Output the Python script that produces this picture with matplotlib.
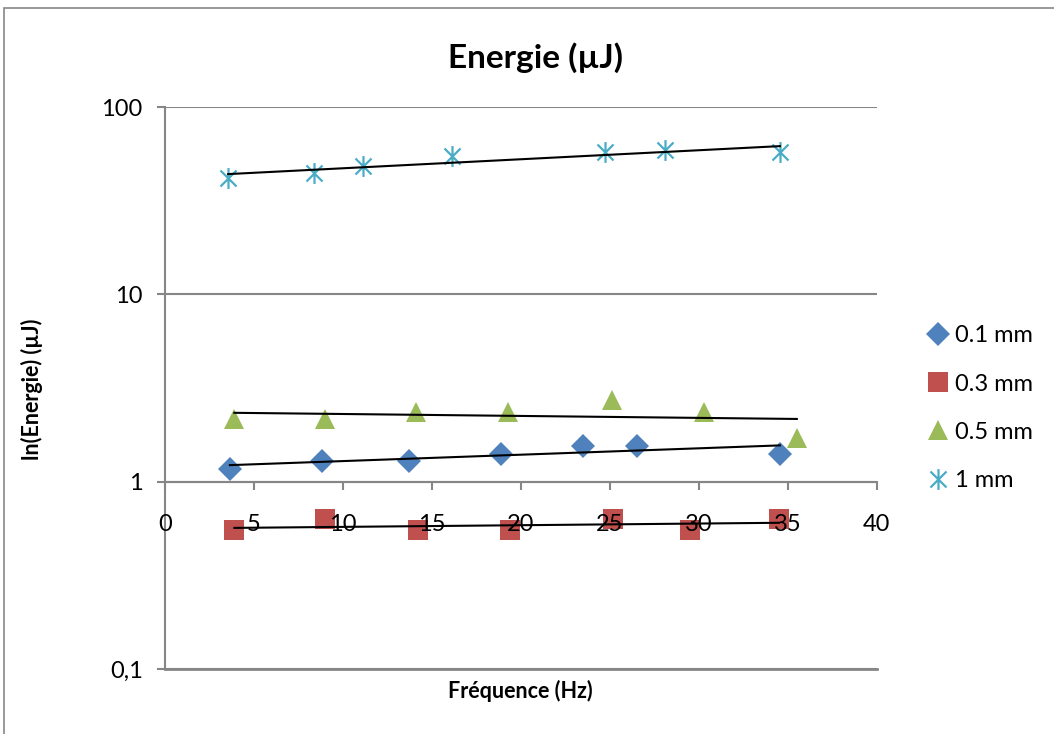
import numpy as np
import matplotlib.pyplot as plt
from matplotlib.path import Path
from matplotlib.patches import Rectangle

# Data (frequency in Hz, energy in uJ)
x_01 = [3.65, 8.8, 13.7, 18.9, 23.5, 26.5, 34.55]
y_01 = [1.17, 1.29, 1.29, 1.41, 1.56, 1.56, 1.41]

x_03 = [3.9, 9.0, 14.2, 19.4, 25.2, 29.5, 34.5]
y_03 = [0.55, 0.635, 0.55, 0.55, 0.635, 0.55, 0.635]

x_05 = [3.9, 9.0, 14.1, 19.3, 25.1, 30.3, 35.5]
y_05 = [2.16, 2.16, 2.36, 2.36, 2.74, 2.36, 1.72]

x_1 = [3.55, 8.4, 11.1, 16.1, 24.7, 28.1, 34.55]
y_1 = [42.0, 44.5, 48.5, 55.0, 57.5, 59.0, 57.5]

labels = ['0.1 mm', '0.3 mm', '0.5 mm', '1 mm']
y_ticks = [0.1, 1, 10, 100]
y_tick_labels = ['0,1', '1', '10', '100']
x_ticks = [0, 5, 10, 15, 20, 25, 30, 35, 40]

plt.rcParams['font.family'] = ['Lato', 'DejaVu Sans']

# Excel-like "star" marker: an X with a vertical bar
star = Path([(-1, -1), (1, 1), (-1, 1), (1, -1), (0, -1.3), (0, 1.3)],
            [Path.MOVETO, Path.LINETO, Path.MOVETO, Path.LINETO, Path.MOVETO, Path.LINETO])

fig = plt.figure(figsize=(10.54, 7.34), dpi=100)
ax = fig.add_axes([0.1565, 0.0886, 0.6755, 0.7654])

# outer chart frame
fig.patches.append(Rectangle((4 / 1054, -0.1), 1.2, 1 - 8 / 734 + 0.1, transform=fig.transFigure,
                             fill=False, edgecolor='#888888', lw=1.2))

series = [
    (x_01, y_01, 'D', '#4F81BD', 12),
    (x_03, y_03, 's', '#C0504D', 14),
    (x_05, y_05, '^', '#9BBB59', 14),
    (x_1, y_1, star, '#4BACC6', 15),
]

for (xs, ys, m, c, ms), lab in zip(series, labels):
    if m is star:
        ax.plot(xs, ys, linestyle='none', marker=m, markersize=ms, markerfacecolor='none',
                markeredgecolor=c, markeredgewidth=1.6, label=lab, zorder=2)
    else:
        ax.plot(xs, ys, linestyle='none', marker=m, markersize=ms, color=c,
                markeredgewidth=0, label=lab, zorder=2)
    # exponential trendline
    b, a = np.polyfit(xs, np.log(ys), 1)
    xt = np.array([min(xs), max(xs)])
    ax.plot(xt, np.exp(a + b * xt), color='black', lw=1.5, zorder=2.1)

ax.set_yscale('log')
ax.set_ylim(0.1, 100)
ax.set_xlim(0, 40)
ax.set_yticks(y_ticks)
ax.set_yticklabels(y_tick_labels)
ax.yaxis.set_minor_locator(plt.NullLocator())
ax.set_xticks(x_ticks)
ax.set_xticklabels([str(t) for t in x_ticks])

ax.spines['bottom'].set_position(('data', 1))
ax.spines['top'].set_visible(False)
ax.spines['right'].set_visible(False)
for s in ['bottom', 'left']:
    ax.spines[s].set_color('#868686')
    ax.spines[s].set_linewidth(1.5)

ax.yaxis.grid(True, color='#868686', lw=1.5)
ax.set_axisbelow(False)
ax.axhline(0.1, color='#868686', lw=2, clip_on=False, zorder=1)

ax.tick_params(axis='x', direction='out', length=6, width=1.5, color='#868686',
               labelsize=17, pad=17)
ax.tick_params(axis='y', direction='out', length=6, width=1.5, color='#868686',
               labelsize=17, pad=10)

fig.text(0.508, 0.922, 'Energie (µJ)', ha='center', va='center', fontsize=24, fontweight='bold')
fig.text(0.03, 0.47, 'ln(Energie) (µJ)', ha='center', va='center', rotation=90,
         fontsize=15.5, fontweight='bold')
fig.text(0.494, 0.059, 'Fréquence (Hz)', ha='center', va='center', fontsize=15.5, fontweight='bold')

fig.legend(loc='center left', bbox_to_anchor=(0.872, 0.444), frameon=False, fontsize=17,
           handlelength=0.8, handletextpad=0.3, labelspacing=1.15, borderaxespad=0)

fig.savefig('out.png', dpi=100)
